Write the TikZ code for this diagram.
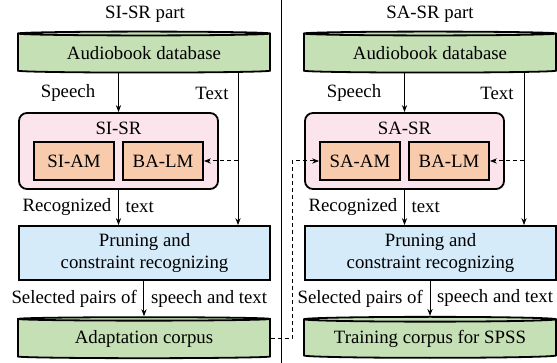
\documentclass[tikz,border=0pt]{standalone}
\usepackage{fontspec}
\setmainfont{Liberation Serif}
\usetikzlibrary{shapes.geometric,arrows.meta}
\definecolor{dbgreen}{HTML}{C5E0B4}
\definecolor{srpink}{HTML}{FCE4EC}
\definecolor{amorange}{HTML}{F8CBAD}
\definecolor{prblue}{HTML}{D5EBF9}

\begin{document}
\begin{tikzpicture}[x=0.5pt, y=-0.5pt,
  font=\fontsize{9.4}{11}\selectfont,
  db/.style={cylinder, shape border rotate=90, aspect=0.025, draw, line width=0.9pt,
    fill=dbgreen, minimum width=126pt, minimum height=20.5pt, inner sep=0pt},
  srbox/.style={draw, line width=0.9pt, rounded corners=4pt, fill=srpink,
    minimum width=99.5pt, minimum height=38pt},
  modbox/.style={draw, line width=0.9pt, fill=amorange, minimum width=40pt, minimum height=19pt},
  prbox/.style={draw, line width=0.9pt, fill=prblue, minimum width=125.5pt,
    minimum height=27pt, align=center},
  arr/.style={-{Stealth[length=3.5pt,width=2.6pt]}, line width=0.5pt},
  dasharr/.style={arr, dash pattern=on 2pt off 1.5pt}]
  \useasboundingbox (0,0) rectangle (557,363);

  % SI-SR part
  \node (titleL) at (145,14) {SI-SR part};
  \node[db] (dbL) at (144,53.5) {Audiobook database};
  \node[srbox] (srL) at (118.5,151) {};
  \node (srlabL) at (118.5,128) {SI-SR};
  \node[modbox] (amL) at (74,161) {SI-AM};
  \node[modbox] (lmL) at (163,161) {BA-LM};
  \node[prbox] (prL) at (144.5,253) {Pruning and\\constraint recognizing};
  \node[db] (corpL) at (144,339) {Adaptation corpus};
  \coordinate (tL) at (238,0);

  \node (spL) at (68,93) {Speech};
  \node (txL) at (212,93) {Text};
  \draw[arr] (dbL.south -| srL.north) -- (srL.north);
  \draw[arr] (dbL.south -| tL) -- (prL.north -| tL);
  \draw[dasharr] (tL |- lmL) -- (lmL.east);
  \draw[arr] (srL.south) -- (srL.south |- prL.north)
    node[midway, left] (recL) {Recognized} node[midway, right] (rtxL) {text};
  \draw[arr] (prL.south -| corpL.north) -- (corpL.north)
    node[midway, left] (selL) {Selected pairs of} node[midway, right] (sptL) {speech and text};

  \draw (281,0) -- (281,363);

  % SA-SR part
  \node (titleR) at (430,14) {SA-SR part};
  \node[db] (dbR) at (430,53.5) {Audiobook database};
  \node[srbox] (srR) at (404.5,151) {};
  \node (srlabR) at (404.5,128) {SA-SR};
  \node[modbox] (amR) at (360,161) {SA-AM};
  \node[modbox] (lmR) at (449,161) {BA-LM};
  \node[prbox] (prR) at (430.5,253) {Pruning and\\constraint recognizing};
  \node[db] (corpR) at (430,339) {Training corpus for SPSS};
  \coordinate (tR) at (524,0);

  \node (spR) at (354,93) {Speech};
  \node (txR) at (497,93) {Text};
  \draw[arr] (dbR.south -| srR.north) -- (srR.north);
  \draw[arr] (dbR.south -| tR) -- (prR.north -| tR);
  \draw[dasharr] (tR |- lmR) -- (lmR.east);
  \draw[arr] (srR.south) -- (srR.south |- prR.north)
    node[midway, left] (recR) {Recognized} node[midway, right] (rtxR) {text};
  \draw[arr] (prR.south -| corpR.north) -- (corpR.north)
    node[midway, left] (selR) {Selected pairs of} node[midway, right] (sptR) {speech and text};

  \coordinate (bend) at (292,0);
  \draw[dasharr] (corpL.east) -- (corpL.east -| bend) -- (bend |- amR) -- (amR.west);
\end{tikzpicture}
\end{document}
